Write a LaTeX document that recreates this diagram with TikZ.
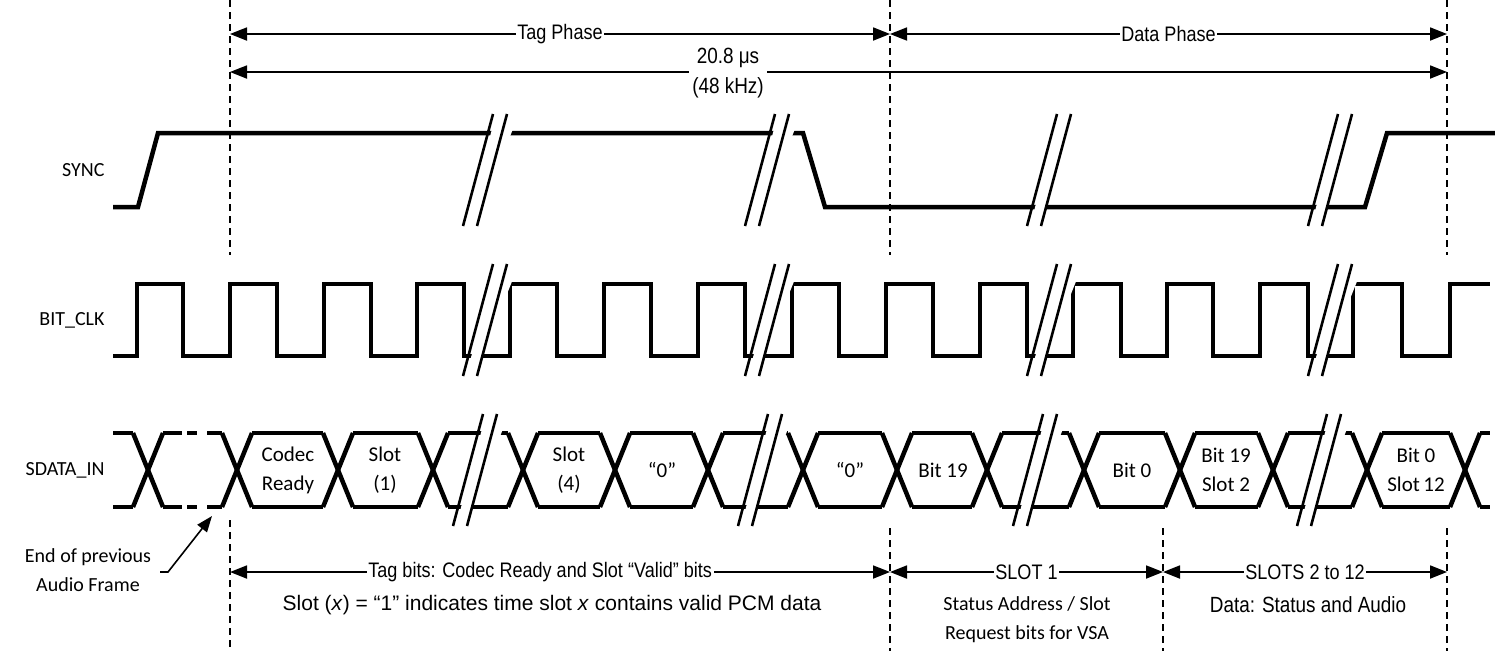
\documentclass[tikz,border=0pt]{standalone}
\usepackage{fontspec}
\setmainfont{Carlito}
\newfontfamily\nar{Liberation Sans}[FakeStretch=0.86]
\newfontfamily\ari{Liberation Sans}
\usetikzlibrary{arrows.meta}
\begin{document}
\begin{tikzpicture}[x=1pt,y=-1pt,
  sig/.style={line width=4.5pt,line join=miter},
  sl/.style={line width=2.6pt},
  dsh/.style={line width=1.6pt,dash pattern=on 7pt off 5pt},
  arr/.style={line width=1.8pt,{Triangle[length=17pt,width=13pt]}-{Triangle[length=17pt,width=13pt]}},
  lbl/.style={font=\fontsize{20}{24}\selectfont},
  box/.style={font=\fontsize{21}{29}\selectfont,align=center,inner sep=0pt},
  ntxt/.style={font=\nar\fontsize{21}{25}\selectfont,fill=white,inner sep=1.5pt}]
\useasboundingbox (0,0) rectangle (1495,651);
\newcommand\brk[2]{%
  \fill[white] (#1-22+3,#2+56)--(#1-22+33,#2-56)--(#1+7+27,#2-56)--(#1+7-15-3,#2+56)--cycle;
  \draw[sl] (#1-22,#2+56)--(#1+8,#2-56);
  \draw[sl] (#1-8,#2+56)--(#1+22,#2-56);}
% dashed guides
\draw[dsh] (230,0)--(230,255);
\draw[dsh] (890,0)--(890,255);
\draw[dsh] (1447,0)--(1447,255);
\draw[dsh] (230,520)--(230,651);
\draw[dsh] (890,528)--(890,651);
\draw[dsh] (1163,528)--(1163,651);
\draw[dsh] (1447,528)--(1447,651);
% labels
\node[lbl,anchor=east] (lsync) at (108,170) {SYNC};
\node[lbl,anchor=east] (lclk) at (108,320) {BIT\_CLK};
\node[lbl,anchor=east] (ldat) at (108,470) {SDATA\_IN};
% SYNC
\draw[sig] (113,207)--(138,207)--(158,133)--(803,133)--(825,207)--(1365,207)--(1387,133)--(1495,133);
\foreach \c in {485,767,1049,1330} {\brk{\c}{170}}
% BIT_CLK
\draw[sig] (113,356) -| (137,284) -| (183,356) -| (230,284) -| (277,356) -| (324,284) -| (371,356) -| (417,284) -| (464,356) -| (510,284) -| (557,356) -| (604,284) -| (651,356) -| (698,284) -| (745,356) -| (792,284) -| (839,356) -| (886,284) -| (933,356) -| (980,284) -| (1027,356) -| (1073,284) -| (1121,356) -| (1167,284) -| (1213,356) -| (1260,284) -| (1308,356) -| (1353,284) -| (1402,356) -| (1450,284) -- (1490,284);
\foreach \c in {485,767,1049,1330} {\brk{\c}{320}}
% SDATA_IN
\foreach \c in {148,237,338,433,523,615,708,803,897,987,1084,1180,1273,1367,1465} {
  \draw[sig] (\c-15,433)--(\c+15,507);
  \draw[sig] (\c-15,507)--(\c+15,433);}
\foreach \a/\b in {113/133,237/338,338/433,433/523,523/615,615/708,708/803,803/897,897/987,987/1084,1084/1180,1180/1273,1273/1367,1367/1465} {
  \draw[sig] (\a+15,433)--(\b-15,433);
  \draw[sig] (\a+15,507)--(\b-15,507);}
\draw[sig] (1480,433)--(1490,433) (1480,507)--(1490,507);
\draw[sig] (113,433)--(133,433) (113,507)--(133,507);
\foreach \y in {433,507} {
  \draw[sig] (163,\y)--(182,\y) (187,\y)--(197,\y) (207,\y)--(222,\y);}
\foreach \c in {475,760,1035,1319} {\brk{\c}{470}}
\node[box] (t1) at (288,470) {Codec\\Ready};
\node[box] (t2) at (385,470) {Slot\\(1)};
\node[box] (t3) at (569,470) {Slot\\(4)};
\node[box] (t4) at (662,470) {“0”};
\node[box] (t5) at (850,470) {“0”};
\node[box] (t6) at (943,470) {Bit 19};
\node[box] (t7) at (1132,470) {Bit 0};
\node[box] (t8) at (1226,470) {Bit 19\\Slot 2};
\node[box] (t9) at (1416,470) {Bit 0\\Slot\,12};
% end of previous frame
\node[lbl,align=center,font=\fontsize{20}{29}\selectfont] (eop) at (88,570) {End of previous\\Audio Frame};
\coordinate (ea) at (168,572);
\coordinate (eb) at (212,516);
\draw[line width=1.6pt,-{Triangle[length=16pt,width=12pt]}] (160,572)--(ea)--(eb);
% top arrows
\draw[arr] (230,34)--(890,34) node[midway,ntxt] (tp) {Tag Phase};
\draw[arr] (890,34)--(1447,34) node[midway,ntxt] (dp) {Data Phase};
\draw[arr] (230,72)--(1447,72);
\node[ntxt,align=center,font=\nar\fontsize{22}{30}\selectfont,inner sep=3pt] (per) at (728,73) {20.8 μs\\(48 kHz)};
% bottom arrows
\draw[arr] (230,572)--(890,572) node[pos=0.47,ntxt] (tb) {Tag bits: Codec Ready and Slot “Valid” bits};
\draw[arr] (890,572)--(1163,572) node[midway,ntxt] (s1) {SLOT 1};
\draw[arr] (1163,572)--(1447,572) node[midway,ntxt] (s2) {SLOTS 2 to 12};
\node[font=\ari\fontsize{21}{25}\selectfont] (sx) at (552,605) {Slot (\textit{x}) = “1” indicates time slot \textit{x} contains valid PCM data};
\node[align=center,font=\fontsize{20}{29}\selectfont] (sa) at (1027,620) {Status Address / Slot\\Request bits for VSA};
\node[font=\nar\fontsize{22}{25}\selectfont] (da) at (1308,605) {Data: Status and Audio};
\end{tikzpicture}
\end{document}
